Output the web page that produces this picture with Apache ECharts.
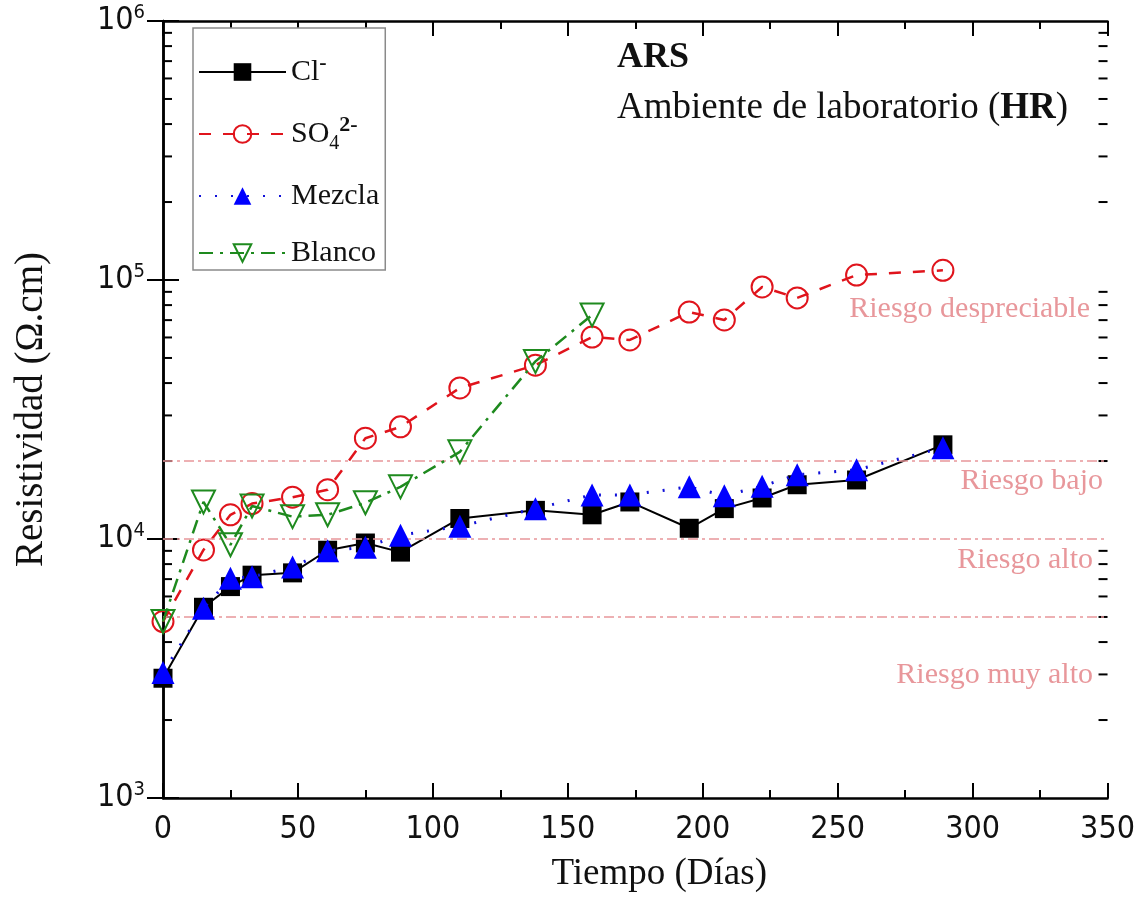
<!DOCTYPE html>
<html>
<head>
<meta charset="utf-8">
<script src="https://cdn.jsdelivr.net/npm/echarts@6/dist/echarts.min.js"></script>
<style>html,body{margin:0;padding:0;background:#fff;}#c{width:1138px;height:903px;}</style>
</head>
<body>
<div id="c"></div>
<script>
// ---- data ----
const days = [0, 15, 25, 33, 48, 61, 75, 88, 110, 138, 159, 173, 195, 208, 222, 235, 257, 289];
const clValues = [2900, 5450, 6550, 7250, 7400, 9050, 9650, 8900, 12000, 12900, 12400, 13900, 11000, 13100, 14400, 16200, 16900, 23100];
const so4Values = [4800, 9070, 12400, 13700, 14500, 15500, 24500, 27100, 38300, 46900, 60200, 58700, 75200, 70100, 94000, 85300, 104500, 109000];
const mezclaValues = [3050, 5400, 7050, 7150, 7800, 9000, 9300, 10350, 11200, 13100, 14800, 14800, 15900, 14700, 16000, 17700, 18500, 22500];
const blancoValues = [4800, 13900, 9500, 13400, 12200, 12400, 13800, 15900, 21700, 48500, 73300];
const seriesNames = ['Cl-', 'SO4', 'Mezcla', 'Blanco'];
const riskThresholds = [20000, 10000, 5000];
const riskLabels = ['Riesgo despreciable', 'Riesgo bajo', 'Riesgo alto', 'Riesgo muy alto'];
const xTicks = [0, 50, 100, 150, 200, 250, 300, 350];
const yDecades = [1000, 10000, 100000, 1000000];
const yMinorTicks = [];
for (let d = 0; d < 3; d++) for (let m = 2; m <= 9; m++) yMinorTicks.push(m * yDecades[d]);

const pair = (xs, ys) => ys.map((v, i) => [xs[i], v]);

const SERIF = "'Liberation Serif', 'Times New Roman', serif";
const NARROW = "'Liberation Sans Narrow', 'DejaVu Sans Condensed', 'Liberation Sans', sans-serif";
const riskColor = '#e8979b';

const chart = echarts.init(document.getElementById('c'), null, {renderer: 'canvas'});

const legendNames = {
  'Cl-': '{t|Cl}{sup|-}',
  'SO4': '{t|SO}{sub|4}{sup|2-}',
  'Mezcla': '{t|Mezcla}',
  'Blanco': '{t|Blanco}'
};

const axisLineStyle = {color: '#000', width: 2.5};

const option = {
  backgroundColor: '#fff',
  animation: false,
  grid: {left: 163, right: 22, top: 21, bottom: 105, containLabel: false},
  legend: {
    data: seriesNames,
    orient: 'vertical',
    left: 193, top: 28,
    padding: [24, 6, 2, 5],
    itemGap: 27,
    itemWidth: 87, itemHeight: 22,
    backgroundColor: '#fff',
    borderColor: '#8a8a8a', borderWidth: 1.5,
    formatter: n => legendNames[n],
    textStyle: {
      fontFamily: SERIF, fontSize: 30, color: '#111',
      rich: {
        t: {fontFamily: SERIF, fontSize: 30, lineHeight: 40, color: '#111'},
        sub: {fontFamily: SERIF, fontSize: 20, lineHeight: 40, verticalAlign: 'bottom', color: '#111'},
        sup: {fontFamily: SERIF, fontSize: 22, fontWeight: 'bold', lineHeight: 40, verticalAlign: 'top', color: '#111'}
      }
    }
  },
  xAxis: [{
    type: 'value', min: 0, max: 350, interval: 50,
    position: 'bottom',
    name: 'Tiempo (Días)', nameLocation: 'middle', nameGap: 58,
    nameTextStyle: {fontFamily: SERIF, fontSize: 37, color: '#111', padding: [0, 0, 0, 48]},
    axisLine: {show: true, lineStyle: axisLineStyle},
    axisTick: {show: true, inside: true, length: 15, lineStyle: {color: '#000', width: 2}},
    minorTick: {show: true, splitNumber: 2, length: 8, lineStyle: {color: '#000', width: 2}},
    axisLabel: {fontFamily: NARROW, fontSize: 32, color: '#111', margin: 16},
    splitLine: {show: false}
  }, {
    type: 'value', min: 0, max: 350, interval: 50,
    position: 'top',
    axisLine: {show: true, lineStyle: axisLineStyle},
    axisTick: {show: true, inside: true, length: 15, lineStyle: {color: '#000', width: 2}},
    minorTick: {show: true, splitNumber: 2, length: 8, lineStyle: {color: '#000', width: 2}},
    axisLabel: {show: false},
    splitLine: {show: false}
  }],
  yAxis: [{
    type: 'log', logBase: 10, min: 1000, max: 1000000,
    position: 'left',
    name: 'Resistividad (Ω.cm)', nameLocation: 'middle', nameGap: 112,
    nameTextStyle: {fontFamily: SERIF, fontSize: 39, color: '#111'},
    axisLine: {show: true, lineStyle: axisLineStyle},
    axisTick: {show: true, inside: true, length: 16, lineStyle: {color: '#000', width: 2}},
    axisLabel: {
      fontFamily: NARROW, fontSize: 32, color: '#111', margin: 18,
      formatter: v => '{b|10}{s|' + Math.round(Math.log10(v)) + '}',
      rich: {
        b: {fontFamily: NARROW, fontSize: 32, color: '#111', lineHeight: 36},
        s: {fontFamily: NARROW, fontSize: 20, color: '#111', verticalAlign: 'top', lineHeight: 36}
      }
    },
    splitLine: {show: false}
  }, {
    type: 'log', logBase: 10, min: 1000, max: 1000000,
    position: 'right',
    axisLine: {show: true, lineStyle: axisLineStyle},
    axisTick: {show: true, inside: true, length: 16, lineStyle: {color: '#000', width: 2}},
    axisLabel: {show: false},
    splitLine: {show: false}
  }],
  series: [
    {
      name: 'Cl-', type: 'line', data: pair(days, clValues),
      symbol: 'rect', symbolSize: 19,
      lineStyle: {color: '#000', width: 2, type: 'solid'},
      itemStyle: {color: '#000'},
      z: 3,
      markLine: {
        silent: true, symbol: 'none',
        label: {show: false},
        lineStyle: {color: riskColor, width: 1.5, type: [10, 4, 3, 4]},
        data: riskThresholds.map(v => ({yAxis: v}))
      }
    },
    {
      name: 'SO4', type: 'line', data: pair(days, so4Values),
      symbol: 'circle', symbolSize: 21,
      lineStyle: {color: '#e0141c', width: 2.5, type: [12, 12]},
      itemStyle: {color: 'rgba(255,255,255,0)', borderColor: '#e0141c', borderWidth: 2},
      z: 4
    },
    {
      name: 'Mezcla', type: 'line', data: pair(days, mezclaValues),
      symbol: 'triangle', symbolSize: 23,
      lineStyle: {color: '#1010d8', width: 3, type: [2, 14]},
      itemStyle: {color: '#0000ff'},
      z: 5
    },
    {
      name: 'Blanco', type: 'line', data: pair(days.slice(0, blancoValues.length), blancoValues),
      symbol: 'triangle', symbolRotate: 180, symbolSize: 23,
      lineStyle: {color: '#1e8a1e', width: 2.5, type: [14, 7, 3, 7]},
      itemStyle: {color: 'rgba(255,255,255,0)', borderColor: '#1e8a1e', borderWidth: 2},
      z: 6
    },
    {
      name: 'yMinor', type: 'custom', silent: true, clip: false,
      data: yMinorTicks.map(v => [0, v]),
      renderItem: (params, api) => {
        const v = api.value(1);
        const l = api.coord([0, v]);
        const r = api.coord([350, v]);
        return {
          type: 'group',
          children: [
            {type: 'line', shape: {x1: l[0], y1: l[1], x2: l[0] + 9, y2: l[1]}, style: {stroke: '#000', lineWidth: 2}},
            {type: 'line', shape: {x1: r[0] - 9, y1: r[1], x2: r[0], y2: r[1]}, style: {stroke: '#000', lineWidth: 2}}
          ]
        };
      },
      z: 1
    }
  ],
  graphic: [
    {type: 'text', left: 617, top: 40, style: {text: 'ARS', font: 'bold 36px ' + SERIF, fill: '#111'}},
    {type: 'text', left: 617, top: 90, style: {
      text: 'Ambiente de laboratorio ({b|HR})', font: '37px ' + SERIF, fill: '#111',
      rich: {b: {fontFamily: SERIF, fontSize: 37, fontWeight: 'bold', fill: '#111'}}
    }},
    {type: 'text', right: 48, top: 294, style: {text: riskLabels[0], font: '30px ' + SERIF, fill: riskColor}},
    {type: 'text', right: 35, top: 466, style: {text: riskLabels[1], font: '30px ' + SERIF, fill: riskColor}},
    {type: 'text', right: 45, top: 545, style: {text: riskLabels[2], font: '30px ' + SERIF, fill: riskColor}},
    {type: 'text', right: 45, top: 660, style: {text: riskLabels[3], font: '30px ' + SERIF, fill: riskColor}}
  ]
};
chart.setOption(option);
</script>
</body>
</html>
